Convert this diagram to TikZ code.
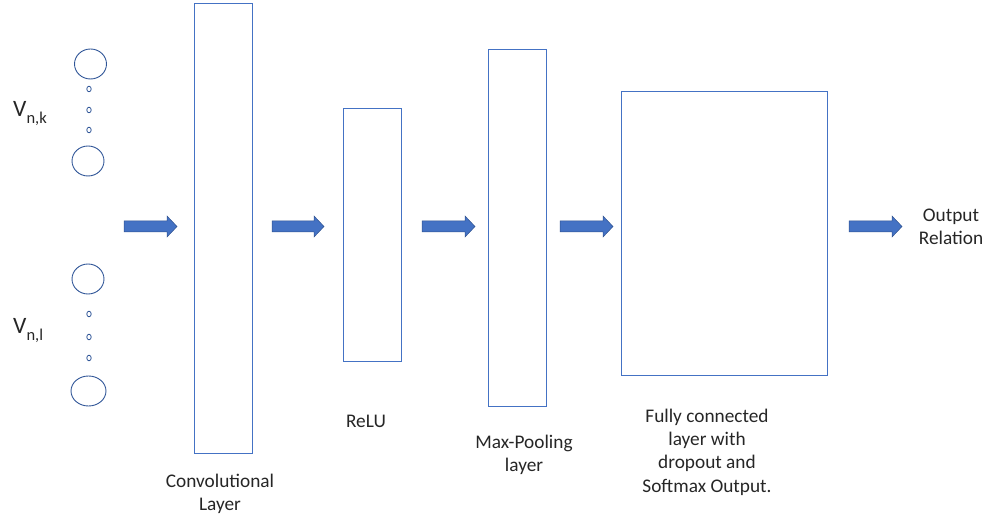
\documentclass[tikz,border=0pt]{standalone}
\usepackage{fontspec}
\setmainfont{Carlito}
\definecolor{edgeblue}{HTML}{4472C4}
\definecolor{ringblue}{HTML}{2F5597}
\definecolor{arrowfill}{HTML}{4472C4}
\definecolor{arrowedge}{HTML}{2F528F}
\definecolor{txt}{HTML}{262626}
% block arrow from the named coordinate #1 (tail) to the named coordinate #2 (tip)
\newcommand{\blockarrow}[2]{%
  \path[flowarrow] ([yshift=-5.5pt]#1) -- ([xshift=-10pt,yshift=-5.5pt]#2)
    -- ([xshift=-10pt,yshift=-10.5pt]#2) -- (#2) -- ([xshift=-10pt,yshift=10.5pt]#2)
    -- ([xshift=-10pt,yshift=5.5pt]#2) -- ([yshift=5.5pt]#1) -- cycle;}
\begin{document}
\begin{tikzpicture}[x=1pt,y=-1pt,
  layerbox/.style={draw=edgeblue,line width=0.9pt},
  ring/.style={draw=ringblue,line width=0.9pt},
  dotring/.style={draw=ringblue,line width=0.8pt},
  flowarrow/.style={fill=arrowfill,draw=arrowedge,line width=0.5pt,line join=miter},
  caption/.style={text=txt,font=\fontsize{19.3}{23.3}\selectfont,align=center},
  vlabel/.style={text=txt,font=\fontsize{23.5}{26}\selectfont,anchor=base west,inner sep=0pt}]
\useasboundingbox (0,0) rectangle (990,521);
% input vectors
\draw[ring] (90.5,64) ellipse[x radius=16,y radius=15];
\draw[dotring] (89,89) ellipse[x radius=2.2,y radius=2.8];
\draw[dotring] (89,110) ellipse[x radius=2.2,y radius=2.8];
\draw[dotring] (89,130) ellipse[x radius=2.2,y radius=2.8];
\draw[ring] (88,161) ellipse[x radius=16,y radius=15];
\node[vlabel] (vk) at (13,117) {V{\fontsize{16.5}{16.5}\selectfont\raisebox{-7pt}{n,k}}};
\draw[ring] (88,279) ellipse[x radius=16,y radius=15];
\draw[dotring] (89,314) ellipse[x radius=2.2,y radius=2.8];
\draw[dotring] (89,337) ellipse[x radius=2.2,y radius=2.8];
\draw[dotring] (89,358) ellipse[x radius=2.2,y radius=2.8];
\draw[ring] (88.5,391) ellipse[x radius=17.5,y radius=15];
\node[vlabel] (vl) at (13,333) {V{\fontsize{16.5}{16.5}\selectfont\raisebox{-7pt}{n,l}}};
% layers
\draw[layerbox] (194,3) rectangle (252,453);
\draw[layerbox] (343,108) rectangle (401,361);
\draw[layerbox] (488,49) rectangle (546,406);
\draw[layerbox] (621,91) rectangle (827,375);
% arrow ends
\coordinate (a1s) at (124,226.5); \coordinate (a1e) at (177,226.5);
\coordinate (a2s) at (272,226.5); \coordinate (a2e) at (324,226.5);
\coordinate (a3s) at (422,226.5); \coordinate (a3e) at (475,226.5);
\coordinate (a4s) at (560,226.5); \coordinate (a4e) at (613,226.5);
\coordinate (a5s) at (849,226.5); \coordinate (a5e) at (902,226.5);
\blockarrow{a1s}{a1e}
\blockarrow{a2s}{a2e}
\blockarrow{a3s}{a3e}
\blockarrow{a4s}{a4e}
\blockarrow{a5s}{a5e}
% captions
\node[caption] (conv) at (220,494) {Convolutional\\Layer};
\node[caption] (relu) at (366,421) {ReLU};
\node[caption] (pool) at (524,455) {Max-Pooling\\layer};
\node[caption] (fc) at (707,452) {Fully connected\\layer with\\dropout and\\Softmax Output.};
\node[caption] (out) at (951,227) {Output\\Relation};
\end{tikzpicture}
\end{document}
